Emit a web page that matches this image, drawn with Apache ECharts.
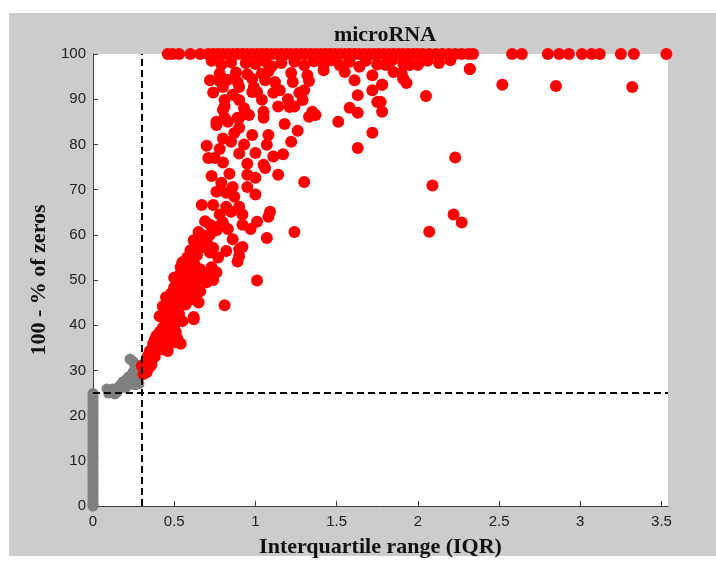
<!DOCTYPE html>
<html>
<head>
<meta charset="utf-8">
<title>microRNA</title>
<script src="https://cdn.jsdelivr.net/npm/echarts@6/dist/echarts.min.js"></script>
<style>
  html, body { margin: 0; padding: 0; background: #fff; }
  #chart { width: 716px; height: 563px; }
</style>
</head>
<body>
<div id="chart"></div>
<script>
// axis ticks
const xTicks = [0, 0.5, 1, 1.5, 2, 2.5, 3, 3.5];
const yTicks = [0, 10, 20, 30, 40, 50, 60, 70, 80, 90, 100];

// cut-offs (dashed lines)
const iqrCut = 0.3;
const zerosCut = 25;

// gray: filtered out genes. column at IQR = 0, plus a small cluster
const grayColumnY = [0, 0.4, 0.9, 1.5, 2.1, 2.6, 3.2, 3.9, 4.5, 5.0, 5.7, 6.3, 6.8, 7.4, 8.1, 8.7, 9.2, 9.9,
  10.5, 11.0, 11.6, 12.3, 12.9, 13.4, 14.0, 14.7, 15.3, 15.8, 16.4, 17.1, 17.7, 18.2, 18.8, 19.5,
  20.1, 20.6, 21.2, 21.9, 22.5, 23.0, 23.6, 24.3, 24.9];
const grayCluster = [[0.086, 25.9], [0.10, 25.5], [0.11, 25.2], [0.123, 25.9], [0.135, 24.8], [0.148, 25.2],
  [0.16, 26.3], [0.17, 26.8], [0.185, 27.5], [0.20, 27.2], [0.20, 26.2], [0.209, 28.1], [0.22, 28.6],
  [0.228, 27.8], [0.24, 27.0], [0.246, 29.6], [0.25, 28.0], [0.258, 30.8], [0.228, 32.5], [0.245, 32.0],
  [0.262, 31.4], [0.26, 26.8], [0.27, 29.8], [0.277, 28.6], [0.283, 27.1], [0.095, 25.0], [0.14, 25.8]];

// red: kept genes
const redTopRowX = [0.46, 0.49, 0.53, 0.60, 0.66, 0.71, 0.74, 0.77, 0.80, 0.83, 0.86, 0.89, 0.92, 0.95, 0.98,
  1.01, 1.04, 1.07, 1.10, 1.13, 1.16, 1.19, 1.22, 1.25, 1.28, 1.31, 1.34, 1.37, 1.40, 1.43, 1.46, 1.49,
  1.52, 1.55, 1.58, 1.61, 1.64, 1.67, 1.70, 1.73, 1.76, 1.79, 1.82, 1.85, 1.88, 1.91, 1.94, 1.97, 2.00,
  2.03, 2.07, 2.11, 2.15, 2.19, 2.23, 2.27, 2.31, 2.34, 2.58, 2.64, 2.80, 2.87, 2.93, 3.01, 3.07, 3.12,
  3.25, 3.33, 3.53];
const redTopBand = [[0.73, 98.5], [0.79, 97.6], [0.85, 98.2], [0.94, 98.0], [1.00, 97.8], [1.06, 98.4],
  [1.10, 97.3], [1.16, 98.0], [1.24, 98.3], [1.30, 97.5], [1.36, 98.4], [1.42, 97.6], [1.47, 98.6],
  [1.52, 97.5], [1.58, 98.3], [1.64, 97.2], [1.68, 98.5], [1.75, 97.7], [1.80, 97.6], [1.84, 98.6],
  [1.91, 97.9], [1.95, 97.6], [2.00, 97.6], [2.06, 98.5], [2.13, 98.0], [2.20, 98.6], [2.32, 96.7],
  [0.78, 95.7], [0.88, 95.9], [0.95, 95.5], [1.04, 95.7], [1.08, 96.2], [1.22, 95.8], [1.32, 95.3],
  [1.42, 96.4], [1.55, 96.0], [1.72, 95.3], [1.85, 96.0], [1.90, 95.8],
  [0.72, 94.2], [0.78, 94.0], [0.83, 94.3], [0.89, 93.8], [0.98, 94.5], [1.06, 94.2], [1.12, 93.8],
  [1.23, 93.8], [1.33, 94.0], [1.61, 94.2], [1.78, 93.2], [1.91, 94.5], [1.93, 93.6]];
const redUpper = [[0.81, 89.8], [0.90, 89.8], [0.80, 87.6], [0.76, 84.3], [0.82, 85.4], [0.89, 85.9],
  [0.90, 83.7], [0.80, 81.3], [0.85, 80.6], [0.70, 79.7], [0.98, 82.1], [1.08, 82.1], [1.07, 79.9],
  [1.00, 78.1], [1.22, 80.6], [1.17, 77.8], [1.11, 77.3], [0.71, 77.0], [0.75, 77.0], [0.80, 76.0],
  [0.95, 75.7], [1.05, 75.5], [1.06, 74.8], [0.80, 92.7], [0.90, 92.7], [0.99, 92.7], [0.98, 91.6],
  [1.11, 91.4], [1.15, 92.0], [1.21, 88.3], [1.27, 91.4], [1.29, 89.8], [1.33, 86.1], [1.37, 86.5],
  [1.51, 85.0], [1.58, 88.1], [1.63, 87.0], [1.63, 90.9], [1.72, 82.6], [1.63, 79.2], [1.72, 92.0],
  [1.75, 89.4], [1.01, 91.6], [1.04, 89.9], [1.14, 88.4], [1.24, 88.4], [1.05, 87.2], [1.35, 87.2],
  [1.78, 87.2], [0.81, 88.4], [0.81, 85.9], [0.90, 85.9], [1.05, 85.9], [0.76, 85.0], [0.83, 85.0],
  [1.20, 90.0], [1.30, 92.0], [1.77, 89.4], [1.14, 73.3], [0.74, 91.5], [0.86, 91.0], [0.93, 88.0],
  [0.96, 86.5], [0.87, 82.5], [0.93, 80.0], [0.78, 79.0], [0.73, 73.0], [0.84, 73.5], [0.90, 78.0],
  [1.18, 84.5], [1.26, 83.0]];
const redMiddle = [[0.95, 73.3], [1.00, 72.6], [1.30, 71.7], [0.79, 71.5], [0.86, 70.6], [0.76, 69.5],
  [0.82, 69.3], [0.95, 70.6], [1.00, 68.9], [0.87, 68.4], [0.67, 66.6], [0.74, 66.6], [0.82, 66.2],
  [0.90, 66.2], [0.85, 65.1], [1.09, 65.1], [0.78, 64.5], [0.92, 64.5], [1.08, 64.0], [0.72, 62.2],
  [0.80, 62.7], [0.92, 62.2], [1.01, 62.9], [0.76, 61.0], [0.83, 61.3], [0.97, 61.3], [1.24, 60.6],
  [1.07, 59.3], [0.65, 60.6], [0.60, 56.6], [0.66, 57.1], [0.74, 57.1], [0.82, 56.4], [0.92, 57.3],
  [0.86, 59.0], [0.72, 56.1], [0.77, 55.0], [0.90, 56.8], [0.89, 54.1], [0.90, 55.3], [0.78, 62.0],
  [0.70, 58.5], [0.62, 58.8], [0.70, 57.5], [0.64, 58.0], [0.68, 59.8], [0.72, 60.0], [0.69, 63.0]];
const redLower = [[0.55, 53.9], [0.62, 53.9], [0.55, 51.7], [0.66, 52.4], [0.76, 51.7], [1.01, 49.9],
  [0.50, 48.4], [0.60, 49.1], [0.66, 47.5], [0.70, 49.5], [0.45, 46.2], [0.54, 46.2], [0.60, 45.7],
  [0.64, 47.0], [0.43, 44.2], [0.49, 44.0], [0.57, 44.6], [0.81, 44.4], [0.41, 42.0], [0.48, 42.0],
  [0.55, 40.9], [0.62, 41.8], [0.62, 41.3], [0.39, 37.6], [0.45, 38.0], [0.48, 38.7], [0.54, 35.9],
  [0.46, 34.3], [0.37, 35.9], [0.35, 34.3], [0.42, 34.7], [0.33, 32.5], [0.38, 33.0], [0.30, 31.0],
  [0.35, 30.8], [0.31, 29.2], [0.33, 29.6], [0.36, 32.0], [0.50, 50.5], [0.53, 49.0], [0.57, 50.5],
  [0.58, 52.8], [0.63, 51.0], [0.68, 50.2], [0.52, 47.2], [0.57, 47.8], [0.62, 48.0], [0.47, 45.0],
  [0.52, 44.8], [0.65, 45.0], [0.53, 42.5], [0.45, 40.5], [0.50, 40.0], [0.58, 55.0], [0.61, 56.2],
  [0.64, 55.5], [0.73, 52.8], [0.43, 39.5], [0.47, 36.8], [0.50, 36.2], [0.52, 37.0], [0.40, 36.0],
  [0.44, 42.8], [0.46, 43.5], [0.51, 46.0], [0.56, 49.0], [0.59, 51.5], [0.54, 52.8], [0.52, 50.8],
  [0.48, 47.0], [0.63, 49.5], [0.56, 45.5], [0.59, 47.0], [0.49, 41.5], [0.41, 38.5], [0.38, 36.8],
  [0.34, 33.3], [0.32, 31.5], [0.36, 31.3], [0.44, 36.0], [0.51, 38.5], [0.57, 53.5], [0.63, 53.0],
  [0.71, 51.0], [0.74, 50.0]];
const redOutliers = [[2.52, 93.2], [2.85, 92.9], [3.32, 92.7], [2.23, 77.1], [2.09, 70.9], [2.22, 64.5],
  [2.27, 62.7], [2.07, 60.7], [2.05, 90.7], [1.78, 93.2], [1.91, 94.5], [1.80, 97.6], [1.95, 97.6],
  [2.00, 97.6], [1.77, 89.4], [2.32, 96.7]];

const grayPoints = grayColumnY.map(y => [0, y]).concat(grayCluster);
const redPoints = redTopRowX.map(x => [x, 100])
  .concat(redTopBand, redUpper, redMiddle, redLower, redOutliers);

const chart = echarts.init(document.getElementById('chart'));

const tickFont = { fontFamily: 'Liberation Sans', fontSize: 15, color: '#1e1e1e' };
const nameFont = { fontFamily: 'Liberation Serif', fontWeight: 'bold', fontSize: 22, color: '#111' };

chart.setOption({
  backgroundColor: '#fff',
  animation: false,
  graphic: [{
    type: 'rect',
    z: -10,
    silent: true,
    shape: { x: 9, y: 13, width: 707, height: 543 },
    style: { fill: '#cccccc' }
  }],
  title: {
    text: 'microRNA',
    left: 380,
    top: 19,
    textAlign: 'center',
    textStyle: { fontFamily: 'Liberation Serif', fontWeight: 'bold', fontSize: 22, color: '#111' }
  },
  grid: {
    left: 93,
    top: 54,
    width: 575,
    height: 454,
    show: true,
    backgroundColor: '#fff',
    borderWidth: 0
  },
  xAxis: {
    type: 'value',
    min: 0,
    max: 3.54,
    name: 'Interquartile range (IQR)',
    nameLocation: 'middle',
    nameGap: 30,
    nameTextStyle: nameFont,
    splitLine: { show: false },
    axisLine: { lineStyle: { color: '#404040', width: 1 } },
    axisTick: { inside: true, length: 5, customValues: xTicks, lineStyle: { color: '#404040' } },
    axisLabel: Object.assign({ margin: 8, customValues: xTicks }, tickFont)
  },
  yAxis: {
    type: 'value',
    min: 0,
    max: 100,
    interval: 10,
    name: '100 - % of zeros',
    nameLocation: 'middle',
    nameGap: 41,
    nameTextStyle: nameFont,
    splitLine: { show: false },
    axisLine: { show: true, lineStyle: { color: '#404040', width: 1 } },
    axisTick: { show: true, inside: true, length: 5, customValues: yTicks, lineStyle: { color: '#404040' } },
    axisLabel: Object.assign({ margin: 7, customValues: yTicks }, tickFont)
  },
  series: [
    {
      name: 'filtered',
      type: 'scatter',
      clip: false,
      z: 1,
      symbolSize: 11,
      itemStyle: { color: '#808080', opacity: 1 },
      data: grayPoints
    },
    {
      name: 'cutoffs',
      type: 'scatter',
      z: 2,
      data: [],
      markLine: {
        silent: true,
        symbol: 'none',
        label: { show: false },
        lineStyle: { color: '#000', width: 2, type: [7, 4] },
        data: [{ xAxis: iqrCut }, { yAxis: zerosCut }]
      }
    },
    {
      name: 'kept',
      type: 'scatter',
      clip: false,
      z: 3,
      symbolSize: 12,
      itemStyle: { color: '#ff0000', opacity: 1 },
      data: redPoints
    }
  ]
});
</script>
</body>
</html>
